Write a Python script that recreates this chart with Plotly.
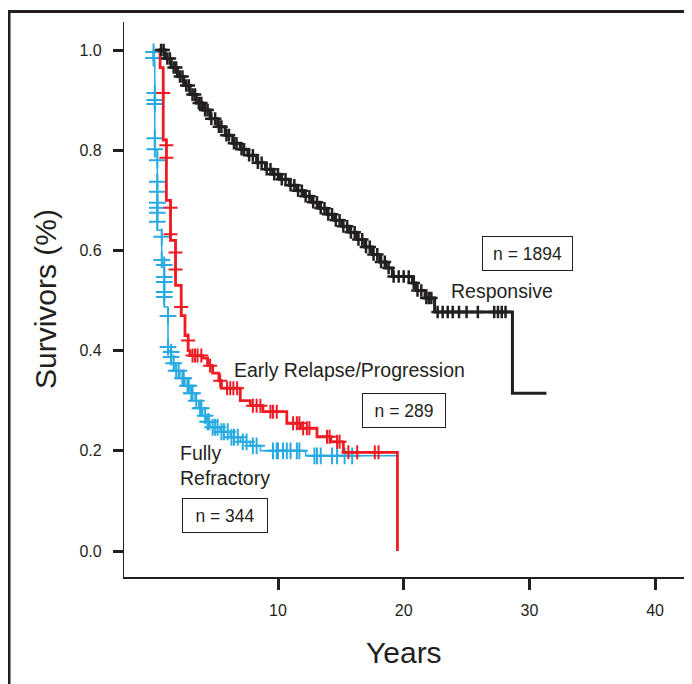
import numpy as np
import plotly.graph_objects as go

# ---------------- data ----------------
resp_t = [0.5, 1.0, 1.5, 2.0, 2.5, 3.0, 3.5, 4.0, 4.6, 5.2, 5.8, 6.4, 7.0, 7.6, 8.3, 9.0,
          9.6, 10.2, 10.9, 11.5, 12.1, 12.7, 13.3, 13.9, 14.5, 15.1, 15.7, 16.3, 16.9,
          17.5, 18.1, 18.6, 19.1, 20.7, 21.0, 21.7, 22.46, 28.65]
resp_s = [1.0, 0.983, 0.965, 0.947, 0.929, 0.911, 0.894, 0.880, 0.863, 0.847, 0.830, 0.814,
          0.802, 0.790, 0.775, 0.762, 0.752, 0.742, 0.730, 0.719, 0.708, 0.696, 0.684, 0.672,
          0.660, 0.648, 0.636, 0.622, 0.607, 0.592, 0.577, 0.565, 0.548, 0.535, 0.520, 0.505,
          0.477, 0.315]
resp_end = 31.35
resp_cens = [0.7, 0.9, 1.2, 1.4, 1.7, 1.9, 2.2, 2.4, 2.7, 2.9, 3.2, 3.4, 3.7, 3.9, 4.2, 4.4,
             4.7, 5.0, 5.3, 5.5, 5.9, 6.1, 6.5, 6.7, 7.1, 7.3, 7.7, 8.0, 8.4, 8.7, 9.1, 9.4,
             9.7, 10.0, 10.3, 10.6, 11.0, 11.3, 11.6, 11.9, 12.2, 12.5, 12.8, 13.1, 13.4,
             13.7, 14.0, 14.3, 14.6, 14.9, 15.2, 15.5, 15.8, 16.1, 16.4, 16.7, 17.0, 17.3,
             17.6, 17.9, 18.2, 18.5, 18.8, 19.2, 19.6, 20.0, 20.4, 20.8, 21.1, 21.4, 21.8,
             22.0, 22.2, 22.7, 23.1, 23.5, 23.9, 24.4, 25.0, 25.9, 27.2, 27.5, 27.8, 28.1]

early_t = [0.55, 0.62, 0.87, 1.12, 1.45, 1.85, 2.3, 2.6, 2.85, 3.0, 4.0, 4.4, 4.8, 5.3, 5.5,
           7.0, 7.8, 8.8, 10.7, 11.8, 13.1, 14.2, 15.2, 19.5]
early_s = [1.0, 0.965, 0.82, 0.70, 0.62, 0.53, 0.47, 0.43, 0.40, 0.39, 0.385, 0.37, 0.355,
           0.34, 0.325, 0.30, 0.29, 0.278, 0.255, 0.245, 0.228, 0.218, 0.197, 0.0]
early_mark_t = [0.87, 1.12, 1.12, 1.45, 1.45, 1.85, 1.85, 2.3, 2.85]
early_mark_s = [0.914, 0.81, 0.785, 0.685, 0.632, 0.596, 0.562, 0.487, 0.42]
early_cens = [3.2, 3.4, 3.6, 3.9, 4.6, 5.4, 5.95, 6.2, 6.45, 6.75, 8.0, 8.3, 8.6, 9.4, 9.6,
              9.9, 11.2, 11.5, 11.7, 12.0, 12.3, 12.5, 13.9, 14.1, 14.7, 14.9, 15.6, 16.3,
              17.7, 18.0]

refr_t = [0.05, 0.1, 0.2, 0.4, 0.75, 0.95, 1.25, 1.5, 1.8, 2.2, 2.6, 3.0, 3.4, 3.7, 4.0,
          4.3, 4.6, 5.4, 6.2, 7.0, 7.8, 8.6, 12.2]
refr_s = [1.0, 0.98, 0.80, 0.64, 0.575, 0.487, 0.40, 0.375, 0.36, 0.345, 0.33, 0.315, 0.30,
          0.285, 0.27, 0.258, 0.247, 0.238, 0.227, 0.218, 0.21, 0.20, 0.19]
refr_end = 19.4
refr_mark_t = [0.1, 0.1, 0.2, 0.2, 0.2, 0.2, 0.2, 0.4, 0.4, 0.4, 0.4, 0.4, 0.4, 0.4, 0.75,
               0.75, 0.95, 0.95, 0.95, 0.95, 0.95, 1.25, 1.25, 1.5, 1.5]
refr_mark_s = [0.996, 0.984, 0.914, 0.900, 0.892, 0.824, 0.802, 0.78, 0.737, 0.717, 0.695,
               0.685, 0.675, 0.657, 0.627, 0.581, 0.571, 0.547, 0.537, 0.517, 0.507, 0.469,
               0.407, 0.397, 0.387]
refr_cens = [1.7, 1.9, 2.1, 2.4, 2.5, 2.8, 2.9, 3.1, 3.2, 3.5, 3.8, 3.9, 4.2, 4.4, 4.5, 4.8,
             5.0, 5.2, 5.5, 5.7, 6.0, 6.3, 6.5, 6.8, 7.2, 7.5, 8.0, 8.3, 9.6, 9.9, 10.0,
             10.4, 10.7, 11.0, 11.5, 11.7, 12.9, 13.1, 13.4, 14.3, 14.7, 15.3, 15.9]

y_ticks = [0.0, 0.2, 0.4, 0.6, 0.8, 1.0]
x_ticks = [10, 20, 30, 40]

BLACK = "#231f20"
RED = "#ed1c24"
BLUE = "#29abe2"


def step_at(ts, ss, q):
    idx = np.searchsorted(np.array(ts), np.array(q), side="right") - 1
    return [ss[i] for i in idx]


fig = go.Figure()


def add_curve(ts, ss, end, color, lw):
    xs = list(ts) + ([end] if end is not None else [])
    ys = list(ss) + ([ss[-1]] if end is not None else [])
    fig.add_trace(go.Scatter(x=xs, y=ys, mode="lines", line=dict(color=color, width=lw, shape="hv"),
                             hoverinfo="skip", showlegend=False))


def add_marks(mx, my, color, size, lw):
    fig.add_trace(go.Scatter(x=mx, y=my, mode="markers",
                             marker=dict(symbol="cross-thin", size=size, color=color,
                                         line=dict(color=color, width=lw)),
                             hoverinfo="skip", showlegend=False))


# Fully refractory (blue)
add_curve(refr_t, refr_s, refr_end, BLUE, 1.5)
add_marks(refr_mark_t + refr_cens, refr_mark_s + step_at(refr_t, refr_s, refr_cens), BLUE, 12, 2)
# Early relapse (red)
add_curve(early_t, early_s, None, RED, 2.8)
add_marks(early_mark_t + early_cens, early_mark_s + step_at(early_t, early_s, early_cens), RED, 10, 2)
# Responsive (black)
add_curve(resp_t, resp_s, resp_end, BLACK, 3)
add_marks(resp_cens, step_at(resp_t, resp_s, resp_cens), BLACK, 9, 2.5)

FONT = "Liberation Sans, Arial, sans-serif"

W, H = 692, 684
OFF = 8  # page body margin
# plot area in reference (screen) pixels
PL, PR, PT, PB = 124, 684, 22, 577
pw, ph = PR - PL, PB - PT


def px(x):
    return (x - PL) / pw


def py(y):
    return (PB - y) / ph


x0 = 152.3
xs_per = 12.57
y0 = 551
ys_per = 501

fig.update_layout(
    width=W, height=H,
    margin=dict(l=PL - OFF, r=W - (PR - OFF), t=PT - OFF, b=H - (PB - OFF)),
    paper_bgcolor="white", plot_bgcolor="white",
    font=dict(family=FONT, color=BLACK),
    xaxis=dict(range=[(PL - x0) / xs_per, (PR - x0) / xs_per], tickvals=x_ticks,
               ticktext=[str(v) for v in x_ticks], showgrid=False, zeroline=False,
               showline=True, linecolor=BLACK, linewidth=1.5, ticks="outside", ticklen=11,
               tickwidth=2.5, tickcolor=BLACK, ticklabelstandoff=7,
               tickfont=dict(size=16, color=BLACK, family=FONT)),
    yaxis=dict(range=[(y0 - PB) / ys_per, (y0 - PT) / ys_per], tickvals=y_ticks,
               ticktext=["%.1f" % v for v in y_ticks], showgrid=False, zeroline=False,
               showline=True, linecolor=BLACK, linewidth=1.2, ticks="outside", ticklen=10,
               tickwidth=2.5, tickcolor=BLACK, ticklabelstandoff=8,
               tickfont=dict(size=16, color=BLACK, family=FONT)),
)

# outer frame (left and top lines)
fig.add_shape(type="line", xref="paper", yref="paper", x0=px(9), x1=px(9), y0=py(10), y1=py(H + 20),
              line=dict(color=BLACK, width=3))
fig.add_shape(type="line", xref="paper", yref="paper", x0=px(9), x1=px(W + 20), y0=py(11.5), y1=py(11.5),
              line=dict(color=BLACK, width=3))

anns = []
anns.append(dict(text="Survivors (%)", xref="paper", yref="paper", x=px(45), y=py(299),
                 textangle=-90, showarrow=False, font=dict(size=30, color=BLACK, family=FONT),
                 xanchor="center", yanchor="middle"))
anns.append(dict(text="Years", xref="paper", yref="paper", x=px(404), y=py(652), showarrow=False,
                 font=dict(size=30, color=BLACK, family=FONT), xanchor="center", yanchor="middle"))


def dx(x):
    return (x - x0) / xs_per


def dy(y):
    return (y0 - y) / ys_per


LBL = 19.5
anns.append(dict(text="Responsive", x=dx(502), y=dy(291), showarrow=False,
                 font=dict(size=LBL, color=BLACK, family=FONT), xanchor="center", yanchor="middle"))
anns.append(dict(text="Early Relapse/Progression", x=dx(232), y=dy(370), showarrow=False,
                 font=dict(size=LBL, color=BLACK, family=FONT), xanchor="left", yanchor="middle"))
anns.append(dict(text="Fully<br>Refractory", x=dx(178), y=dy(465), showarrow=False, align="left",
                 font=dict(size=LBL, color=BLACK, family=FONT), xanchor="left", yanchor="middle"))
for txt, cx, cy, w in [("n = 1894", 527.5, 253.5, 89), ("n = 289", 404, 410.5, 82),
                       ("n = 344", 225, 515.5, 84)]:
    anns.append(dict(text=txt, x=dx(cx), y=dy(cy), showarrow=False, width=w, height=33,
                     bordercolor=BLACK, borderwidth=1, borderpad=0, bgcolor="white",
                     font=dict(size=17.5, color=BLACK, family=FONT), xanchor="center",
                     yanchor="middle", align="center", valign="middle"))
fig.update_layout(annotations=anns)

fig.write_html("out.html")
